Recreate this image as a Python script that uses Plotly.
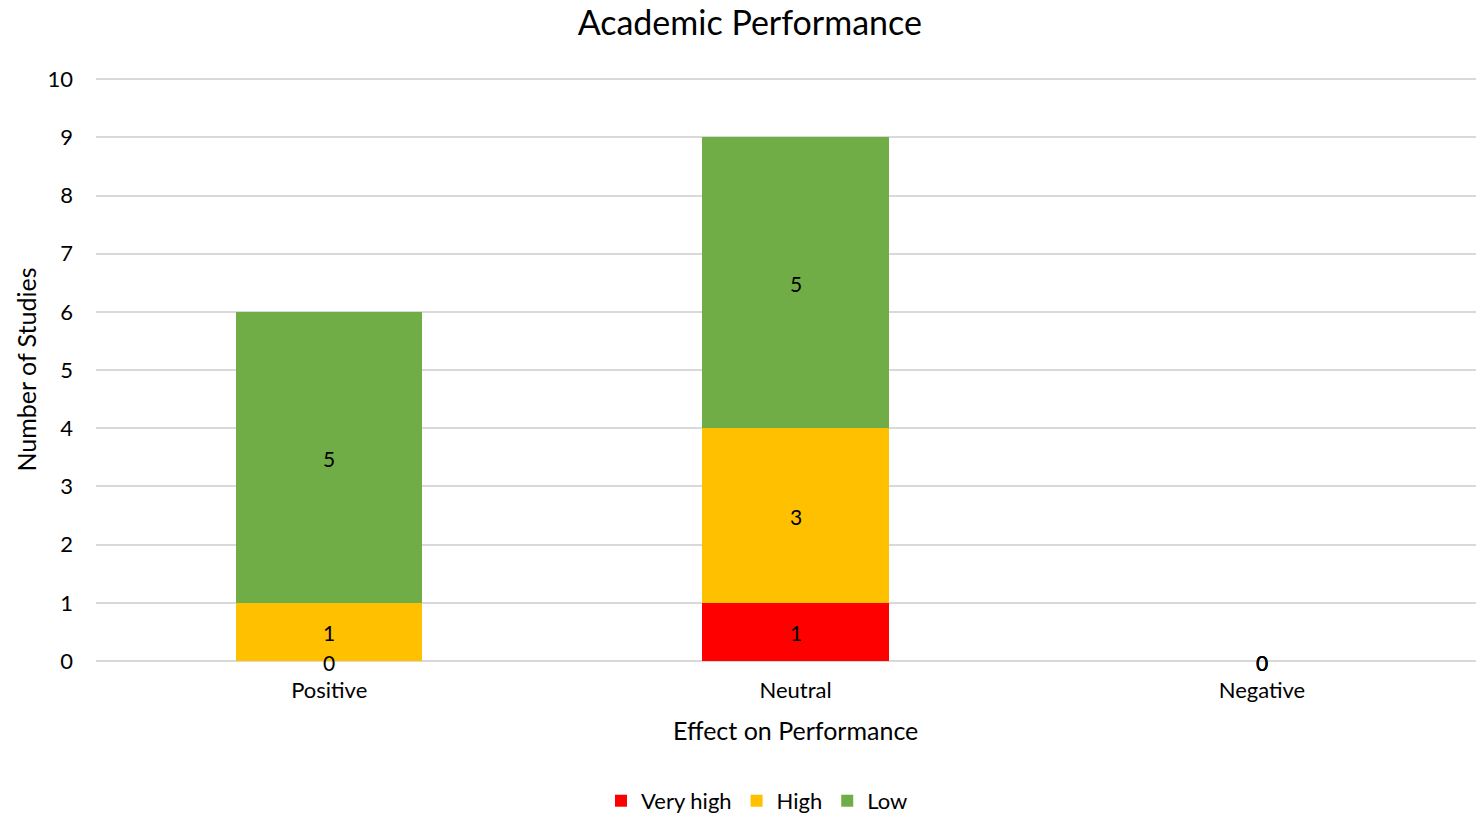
import plotly.graph_objects as go

categories = ["Positive", "Neutral", "Negative"]
very_high = [0, 1, 0]
high = [1, 3, 0]
low = [5, 5, 0]
y_ticks = [0, 1, 2, 3, 4, 5, 6, 7, 8, 9, 10]

series = [
    ("Very high", very_high, "#ff0000"),
    ("High", high, "#ffc000"),
    ("Low", low, "#70ad47"),
]

FONT = "Lato, 'Open Sans', sans-serif"

fig = go.Figure()

# stacked bars
for name, vals, color in series:
    fig.add_trace(go.Bar(
        x=categories, y=vals, name=name, marker_color=color,
        marker_line_width=0, width=0.4,
    ))

# value labels centred in each segment (zero segments sit on their base)
base = [0] * len(categories)
for name, vals, color in series:
    for cat, b, v in zip(categories, base, vals):
        fig.add_annotation(
            x=cat, y=b + v / 2, xref="x", yref="y", text=str(v),
            showarrow=False, yshift=-1,
            font=dict(family=FONT, size=21, color="#000000"),
        )
    base = [b + v for b, v in zip(base, vals)]

# x-axis title, centred on the middle category
fig.add_annotation(
    x="Neutral", y=-0.118, xref="x", yref="paper", yanchor="middle",
    text="Effect on Performance", showarrow=False,
    font=dict(family=FONT, size=25, color="#000000"),
)

fig.update_layout(
    width=1476, height=816,
    margin=dict(l=96, r=0, t=78, b=155, autoexpand=False),
    paper_bgcolor="white", plot_bgcolor="white",
    barmode="stack",
    font=dict(family=FONT, size=22, color="#000000"),
    title=dict(text="Academic Performance", x=0.508, xanchor="center",
               y=0.972, yanchor="middle",
               font=dict(family=FONT, size=34, color="#000000")),
    xaxis=dict(
        range=[-0.5, 2.459], showgrid=False, zeroline=False,
        showline=False, ticks="", automargin=False, ticklabelstandoff=14,
        tickfont=dict(family=FONT, size=22, color="#000000"),
    ),
    yaxis=dict(
        range=[0, 10.02], tickvals=y_ticks, showgrid=True,
        gridcolor="#d9d9d9", gridwidth=1.5, zeroline=True,
        zerolinecolor="#d9d9d9", zerolinewidth=1.5, showline=False,
        ticks="", ticklabelstandoff=22, automargin=False,
        tickfont=dict(family=FONT, size=22, color="#000000"),
        title=dict(text="Number of Studies", standoff=3,
                   font=dict(family=FONT, size=25, color="#000000")),
    ),
    legend=dict(orientation="h", x=0.479, xanchor="center", y=-0.24,
                yanchor="middle", traceorder="normal",
                font=dict(family=FONT, size=22, color="#000000"),
                itemwidth=30),
)

fig.write_html("out.html")
